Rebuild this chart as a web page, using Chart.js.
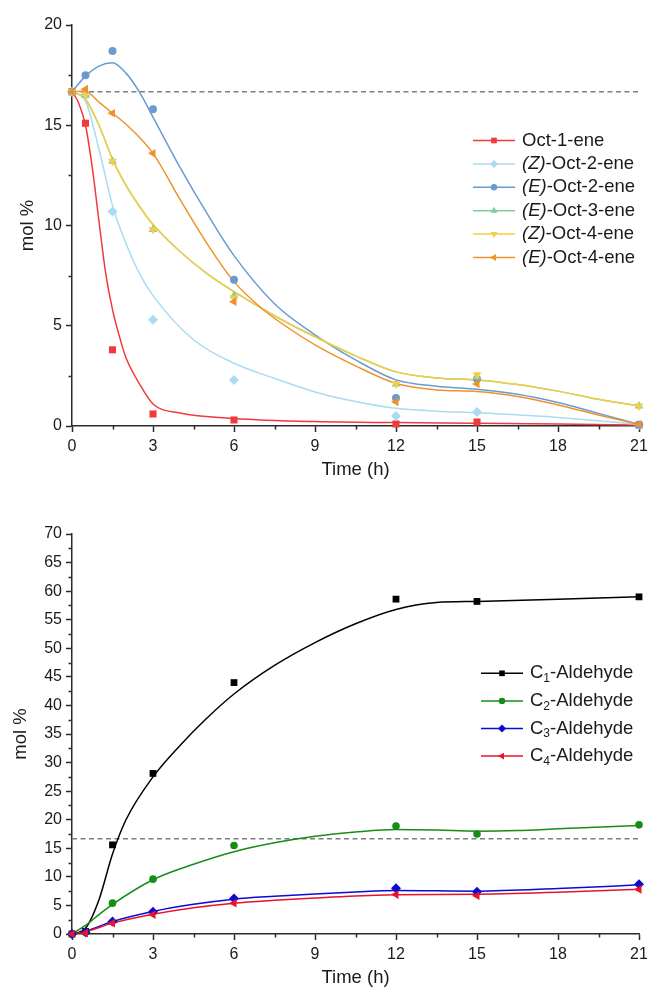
<!DOCTYPE html>
<html>
<head>
<meta charset="utf-8">
<script src="https://cdn.jsdelivr.net/npm/chart.js@4.4.1/dist/chart.umd.min.js"></script>
<style>
  html, body { margin: 0; padding: 0; background: #fff; }
  .panel { position: relative; width: 647px; }
  #panelTop { height: 481px; }
  #panelBottom { height: 508px; }
</style>
</head>
<body>
<div class="panel" id="panelTop"><canvas id="octeneChart"></canvas></div>
<div class="panel" id="panelBottom"><canvas id="aldehydeChart"></canvas></div>
<script>
// ---- data ----
const times = [0, 0.5, 1.5, 3, 6, 12, 15, 21];
const equimolar = 100 / 6;
const xTicks = [0, 3, 6, 9, 12, 15, 18, 21];

// top panel: octene isomers (mol %)
const octeneNames = ['Oct-1-ene', '(Z)-Oct-2-ene', '(E)-Oct-2-ene', '(E)-Oct-3-ene', '(Z)-Oct-4-ene', '(E)-Oct-4-ene'];
const oct1ene  = [16.67, 15.1, 3.8, 0.6, 0.3, 0.1, 0.2, 0.05];
const zOct2ene = [16.67, 16.5, 10.7, 5.3, 2.3, 0.5, 0.7, 0.05];
const eOct2ene = [16.67, 17.5, 18.7, 15.8, 7.3, 1.4, 2.35, 0.06];
const eOct3ene = [16.67, 16.5, 13.2, 9.8, 6.5, 2.1, 2.45, 1.0];
const zOct4ene = [16.67, 16.5, 13.2, 9.8, 6.4, 2.1, 2.55, 1.0];
const eOct4ene = [16.67, 16.8, 15.6, 13.6, 6.2, 1.2, 2.1, 0.08];

// fitted curves: [time, mol %]
const oct1eneFit = [[0, 16.67], [0.25, 16.1], [0.5, 15.0], [0.75, 12.9], [1, 10.2], [1.25, 7.6], [1.5, 5.8], [1.75, 4.5], [2, 3.4], [2.5, 2.1], [3, 1.1], [4, 0.65], [6, 0.38], [9, 0.22], [12, 0.17], [15, 0.14], [18, 0.1], [21, 0.05]];
const zOct2eneFit = [[0, 16.67], [0.5, 16.2], [1, 13.8], [1.5, 11.0], [2, 9.1], [2.5, 7.6], [3, 6.5], [4.5, 4.3], [6, 3.13], [7.5, 2.38], [9, 1.7], [10.5, 1.22], [12, 0.88], [13.5, 0.74], [15, 0.66], [18, 0.43], [21, 0.08]];
const eOct2eneFit = [[0, 16.67], [0.5, 17.45], [1, 17.95], [1.5, 18.12], [2, 17.6], [2.5, 16.65], [3, 15.4], [4, 12.9], [5, 10.6], [6, 8.5], [7.5, 6.1], [9, 4.55], [10.5, 3.3], [12, 2.3], [13.5, 1.98], [15, 1.83], [16.5, 1.58], [18, 1.17], [19.5, 0.63], [21, 0.08]];
const eOct3eneFit = [[0, 16.67], [0.5, 16.3], [1, 15.0], [1.5, 13.3], [2, 12.0], [2.5, 10.95], [3, 10.05], [4, 8.7], [5, 7.6], [6, 6.7], [7.5, 5.5], [9, 4.45], [10.5, 3.5], [12, 2.7], [13.5, 2.4], [15, 2.3], [16.5, 2.07], [18, 1.74], [19.5, 1.33], [21, 1.0]];
const zOct4eneFit = [[0, 16.67], [0.5, 16.3], [1, 15.0], [1.5, 13.3], [2, 12.0], [2.5, 10.95], [3, 10.05], [4, 8.7], [5, 7.6], [6, 6.7], [7.5, 5.5], [9, 4.45], [10.5, 3.5], [12, 2.7], [13.5, 2.4], [15, 2.3], [16.5, 2.07], [18, 1.74], [19.5, 1.33], [21, 1.0]];
const eOct4eneFit = [[0, 16.67], [0.5, 16.7], [1, 16.15], [1.5, 15.6], [2, 15.05], [3, 13.6], [4, 11.3], [5, 9.1], [6, 7.2], [7, 5.9], [8, 4.9], [9, 4.05], [10.5, 3.0], [12, 2.12], [13.5, 1.8], [15, 1.72], [16.5, 1.47], [18, 1.05], [19.5, 0.55], [21, 0.08]];

// bottom panel: aldehydes (mol %)
const aldehydeNames = ['C₁-Aldehyde', 'C₂-Aldehyde', 'C₃-Aldehyde', 'C₄-Aldehyde'];
const c1Aldehyde = [0, 0.45, 15.6, 28.1, 44.0, 58.6, 58.2, 59.0];
const c2Aldehyde = [0, 0.3, 5.4, 9.6, 15.5, 18.9, 17.5, 19.1];
const c3Aldehyde = [0, 0.3, 2.2, 3.9, 6.2, 8.0, 7.4, 8.7];
const c4Aldehyde = [0, 0.15, 1.9, 3.4, 5.4, 6.9, 6.7, 7.8];

const c1AldehydeFit = [[0, 0], [0.5, 1.0], [1, 6.0], [1.5, 14.0], [2, 20.0], [3, 27.5], [4, 33.0], [5, 37.8], [6, 42.0], [7.5, 47.0], [9, 51.0], [10.5, 54.3], [12, 56.8], [13.5, 58.0], [15, 58.2], [18, 58.6], [21, 59.0]];
const c2AldehydeFit = [[0, 0], [0.5, 1.5], [1, 3.4], [1.5, 5.2], [3, 9.5], [4.5, 12.2], [6, 14.4], [7.5, 15.95], [9, 17.1], [10.5, 17.85], [12, 18.3], [13.5, 18.2], [15, 18.0], [16.5, 18.1], [18, 18.4], [21, 19.0]];
const c3AldehydeFit = [[0, 0], [0.5, 0.5], [1.5, 2.2], [3, 3.95], [4.5, 5.2], [6, 6.1], [7.5, 6.6], [9, 7.0], [10.5, 7.35], [12, 7.6], [13.5, 7.55], [15, 7.5], [18, 7.95], [21, 8.6]];
const c4AldehydeFit = [[0, 0], [0.5, 0.4], [1.5, 1.9], [3, 3.45], [4.5, 4.6], [6, 5.4], [7.5, 5.9], [9, 6.3], [10.5, 6.65], [12, 6.85], [15, 6.95], [18, 7.3], [21, 7.85]];

// ---- styles ----
const FONT = "'Liberation Sans', Arial, sans-serif";
const AXIS = '#2b2b2b';
const TEXT = '#1a1a1a';

const octeneStyles = [
  { color: '#ef3b3d', pointStyle: 'rect', radius: 5, legendRadius: 4 },
  { color: '#a9dcf4', pointStyle: 'rectRot', radius: 5, legendRadius: 4 },
  { color: '#6a9bd0', pointStyle: 'circle', radius: 4, legendRadius: 3.2 },
  { color: '#7fcd98', pointStyle: 'triangle', radius: 5, legendRadius: 4 },
  { color: '#f5cd48', pointStyle: 'triangle', rotation: 180, radius: 5, legendRadius: 4 },
  { color: '#f0922c', pointStyle: 'triangle', rotation: 270, radius: 5, legendRadius: 4 }
];
const aldehydeStyles = [
  { color: '#000000', pointStyle: 'rect', radius: 4.8, legendRadius: 4 },
  { color: '#178c17', pointStyle: 'circle', radius: 3.8, legendRadius: 3.2 },
  { color: '#0b0bd2', pointStyle: 'rectRot', radius: 5, legendRadius: 4 },
  { color: '#e8142a', pointStyle: 'triangle', rotation: 270, radius: 5, legendRadius: 4 }
];

function markerSet(label, values, st, order) {
  return {
    label, order, showLine: false, clip: false,
    data: times.map((t, i) => ({ x: t, y: values[i] })),
    pointStyle: st.pointStyle, pointRotation: st.rotation || 0, pointRadius: st.radius,
    pointBackgroundColor: st.color, pointBorderColor: st.color, pointBorderWidth: 0
  };
}

function fitSet(fit, st, order) {
  return {
    order, clip: false, pointRadius: 0, borderWidth: 1.5, borderColor: st.color,
    cubicInterpolationMode: 'monotone', tension: 0.4,
    data: fit.map(([x, y]) => ({ x, y }))
  };
}

function refSet() {
  return {
    order: 99, pointRadius: 0, borderWidth: 1.5, borderColor: '#7d7d7d', borderDash: [5, 3.5],
    data: [{ x: times[0], y: equimolar }, { x: times[times.length - 1], y: equimolar }]
  };
}

function buildDatasets(names, values, fits, styles) {
  const n = names.length;
  const sets = [];
  names.forEach((name, i) => sets.push(markerSet(name, values[i], styles[i], n - i)));
  names.forEach((name, i) => sets.push(fitSet(fits[i], styles[i], 20 + n - i)));
  sets.push(refSet());
  return sets;
}

// ---- plugins ----
function splitLabel(label) {
  const parts = [];
  const m = label.match(/^(\([EZ]\))(.*)$/);
  if (m) { parts.push({ text: m[1], italic: true }); label = m[2]; }
  let buf = '';
  for (const ch of label) {
    const idx = '₀₁₂₃₄₅₆₇₈₉'.indexOf(ch);
    if (idx >= 0) {
      if (buf) parts.push({ text: buf });
      buf = '';
      parts.push({ text: String(idx), sub: true });
    } else buf += ch;
  }
  if (buf) parts.push({ text: buf });
  return parts;
}

const curveLegend = {
  id: 'curveLegend',
  afterDraw(chart, args, opts) {
    const ctx = chart.ctx;
    ctx.save();
    opts.names.forEach((name, i) => {
      const st = opts.styles[i];
      const y = opts.top + i * opts.rowGap;
      ctx.strokeStyle = st.color;
      ctx.lineWidth = 1.5;
      ctx.beginPath();
      ctx.moveTo(opts.left, y);
      ctx.lineTo(opts.left + opts.lineLen, y);
      ctx.stroke();
      ctx.fillStyle = st.color;
      Chart.helpers.drawPoint(ctx, { pointStyle: st.pointStyle, rotation: st.rotation || 0, radius: st.legendRadius, borderWidth: 0 }, opts.left + opts.lineLen / 2, y);
      let x = opts.left + opts.lineLen + opts.textGap;
      ctx.fillStyle = TEXT;
      ctx.textBaseline = 'middle';
      ctx.textAlign = 'left';
      for (const part of splitLabel(name)) {
        const size = part.sub ? opts.fontSize * 0.65 : opts.fontSize;
        ctx.font = (part.italic ? 'italic ' : '') + size + 'px ' + FONT;
        ctx.fillText(part.text, x, y + (part.sub ? opts.fontSize * 0.3 : 0));
        x += ctx.measureText(part.text).width;
      }
    });
    ctx.restore();
  }
};

const minorTicks = {
  id: 'minorTicks',
  afterDraw(chart, args, opts) {
    const { ctx } = chart;
    const { x, y } = chart.scales;
    ctx.save();
    ctx.strokeStyle = AXIS;
    ctx.lineWidth = 1.5;
    ctx.beginPath();
    for (let v = x.min + opts.xStep / 2; v < x.max; v += opts.xStep) {
      const px = Math.round(x.getPixelForValue(v)) + 0.5;
      ctx.moveTo(px, x.top);
      ctx.lineTo(px, x.top + 3.5);
    }
    for (let v = y.min + opts.yStep / 2; v < y.max; v += opts.yStep) {
      const py = Math.round(y.getPixelForValue(v)) + 0.5;
      ctx.moveTo(y.right, py);
      ctx.lineTo(y.right - 3.5, py);
    }
    ctx.stroke();
    ctx.restore();
  }
};

function panelOptions(p) {
  return {
    responsive: true,
    maintainAspectRatio: false,
    animation: false,
    layout: { padding: { top: p.padTop, right: 8, left: 0, bottom: 0 } },
    plugins: {
      legend: { display: false },
      tooltip: { enabled: false },
      minorTicks: { xStep: 3, yStep: p.yStep },
      curveLegend: p.legend
    },
    scales: {
      x: {
        type: 'linear', min: xTicks[0], max: xTicks[xTicks.length - 1],
        afterBuildTicks: s => { s.ticks = xTicks.map(v => ({ value: v })); },
        ticks: { autoSkip: false, maxRotation: 0, padding: 5, color: TEXT, font: { family: FONT, size: 16 } },
        grid: { drawOnChartArea: false, tickLength: 6, tickColor: AXIS, tickWidth: 1.5 },
        border: { color: AXIS, width: 1.5 },
        title: { display: true, text: 'Time (h)', color: TEXT, font: { family: FONT, size: 18.5 }, padding: 0 },
        afterFit: s => { s.height = p.xHeight; s.paddingLeft = 0; s.paddingRight = 0; }
      },
      y: {
        type: 'linear', min: 0, max: p.yMax,
        ticks: { stepSize: p.yStep, autoSkip: false, padding: 4, color: TEXT, font: { family: FONT, size: 16 } },
        grid: { drawOnChartArea: false, tickLength: 6, tickColor: AXIS, tickWidth: 1.5 },
        border: { color: AXIS, width: 1.5 },
        title: { display: true, text: 'mol %', color: TEXT, font: { family: FONT, size: 18.5 }, padding: { top: p.yTitlePad, bottom: 0 } },
        afterFit: s => { s.width = 72; s.paddingTop = 0; s.paddingBottom = 0; }
      }
    }
  };
}

new Chart(document.getElementById('octeneChart').getContext('2d'), {
  type: 'line',
  data: {
    datasets: buildDatasets(
      octeneNames,
      [oct1ene, zOct2ene, eOct2ene, eOct3ene, zOct4ene, eOct4ene],
      [oct1eneFit, zOct2eneFit, eOct2eneFit, eOct3eneFit, zOct4eneFit, eOct4eneFit],
      octeneStyles)
  },
  options: panelOptions({
    padTop: 25, xHeight: 55, yMax: 20, yStep: 5, yTitlePad: 17,
    legend: { names: octeneNames, styles: octeneStyles, left: 473, top: 140.5, rowGap: 23.4, lineLen: 42, textGap: 7, fontSize: 18.5 }
  }),
  plugins: [minorTicks, curveLegend]
});

new Chart(document.getElementById('aldehydeChart').getContext('2d'), {
  type: 'line',
  data: {
    datasets: buildDatasets(
      aldehydeNames,
      [c1Aldehyde, c2Aldehyde, c3Aldehyde, c4Aldehyde],
      [c1AldehydeFit, c2AldehydeFit, c3AldehydeFit, c4AldehydeFit],
      aldehydeStyles)
  },
  options: panelOptions({
    padTop: 53, xHeight: 55, yMax: 70, yStep: 5, yTitlePad: 10,
    legend: { names: aldehydeNames, styles: aldehydeStyles, left: 481, top: 192.3, rowGap: 27.6, lineLen: 42, textGap: 7, fontSize: 18.5 }
  }),
  plugins: [minorTicks, curveLegend]
});
</script>
</body>
</html>
